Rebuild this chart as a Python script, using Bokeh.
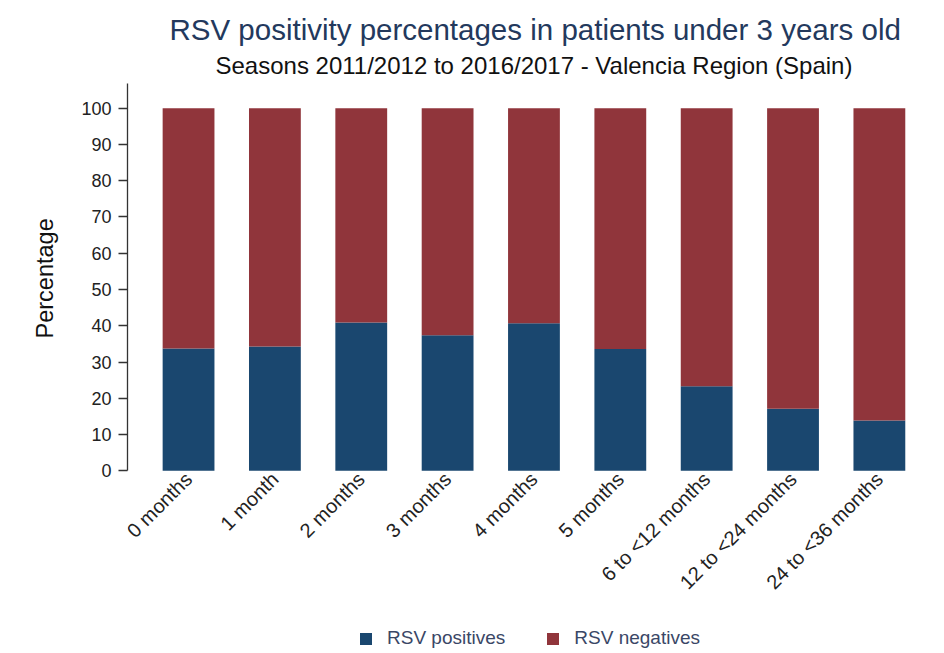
import math
from bokeh.plotting import figure
from bokeh.models import (Range1d, FixedTicker, Legend, LegendItem, Title, ColumnDataSource)
from bokeh.embed import file_html
from bokeh.resources import INLINE

# ---- data ----
categories = ["0 months", "1 month", "2 months", "3 months", "4 months",
              "5 months", "6 to <12 months", "12 to <24 months", "24 to <36 months"]
positives = [33.7, 34.3, 40.9, 37.4, 40.7, 33.6, 23.3, 17.1, 13.9]
negatives = [66.3, 65.7, 59.1, 62.6, 59.3, 66.4, 76.7, 82.9, 86.1]
series_names = ["RSV positives", "RSV negatives"]
y_ticks = [0, 10, 20, 30, 40, 50, 60, 70, 80, 90, 100]

title_text = "RSV positivity percentages in patients under 3 years old"
subtitle_text = "Seasons 2011/2012 to 2016/2017 - Valencia Region (Spain)"
y_label = "Percentage"

NAVY = "#1a476f"
MAROON = "#90353b"
FONT = "Liberation Sans"

Y_TOP = 106.8
Y_BOTTOM = -49.55   # room under the zero line for the slanted labels and the legend

positions = list(range(len(categories)))
src = ColumnDataSource(dict(x=positions, pos=positives, neg=negatives))

p = figure(frame_width=808, frame_height=567,
           x_range=Range1d(-0.707, len(categories) - 1 + 0.65),
           y_range=Range1d(Y_BOTTOM, Y_TOP),
           output_backend="svg", toolbar_location=None,
           min_border_left=127, min_border_right=1,
           min_border_top=83, min_border_bottom=0,
           background_fill_color="white", border_fill_color="white")
p.outline_line_color = None
p.xgrid.visible = False
p.ygrid.visible = False

r = p.vbar_stack(["pos", "neg"], x="x", width=0.6, source=src,
                 color=[NAVY, MAROON], line_width=0)

# y axis
ya = p.yaxis[0]
ya.bounds = (0, Y_TOP)
ya.ticker = FixedTicker(ticks=y_ticks)
ya.axis_line_color = "#333333"
ya.axis_line_width = 1.3
ya.major_tick_line_color = "#333333"
ya.major_tick_line_width = 1.3
ya.major_tick_out = 9
ya.major_tick_in = 0
ya.minor_tick_line_color = None
ya.major_label_text_font = FONT
ya.major_label_text_font_size = "18px"
ya.major_label_text_color = "#222222"
ya.major_label_standoff = 7

# y-axis title, placed beside the 0-100 span
ylab = Title(text=y_label, align="left", offset=312,
             text_font=FONT, text_font_size="23.5px", text_font_style="normal",
             text_color="#111111", standoff=42)
p.add_layout(ylab, "left")

# x axis drawn at the zero line
xa = p.xaxis[0]
xa.fixed_location = 0
xa.ticker = FixedTicker(ticks=positions)
xa.major_label_overrides = {i: c for i, c in zip(positions, categories)}
xa.axis_line_color = None
xa.major_tick_line_color = None
xa.minor_tick_line_color = None
xa.major_tick_out = 0
xa.major_tick_in = 0
xa.major_label_orientation = math.pi / 4
xa.major_label_text_font = FONT
xa.major_label_text_font_size = "20px"
xa.major_label_text_color = "#222222"
xa.major_label_standoff = 5

# legend at the bottom
legend = Legend(items=[LegendItem(label=series_names[0], renderers=[r[0]]),
                       LegendItem(label=series_names[1], renderers=[r[1]])],
                orientation="horizontal", location=(231, 1),
                glyph_width=15, glyph_height=15, label_standoff=14, spacing=40,
                label_text_font=FONT, label_text_font_size="19px",
                label_text_color="#3a4766", border_line_color=None,
                background_fill_alpha=0, padding=0, margin=0)
p.add_layout(legend, "center")

# titles (first added is closest to the plot)
sub = Title(text=subtitle_text, align="left", offset=88,
            text_font=FONT, text_font_size="24px", text_font_style="normal",
            text_color="#111111", standoff=9)
p.add_layout(sub, "above")
ttl = Title(text=title_text, align="left", offset=42,
            text_font=FONT, text_font_size="29.5px", text_font_style="normal",
            text_color="#23395d", standoff=0)
p.add_layout(ttl, "above")

open("out.html", "w").write(file_html(p, INLINE))
